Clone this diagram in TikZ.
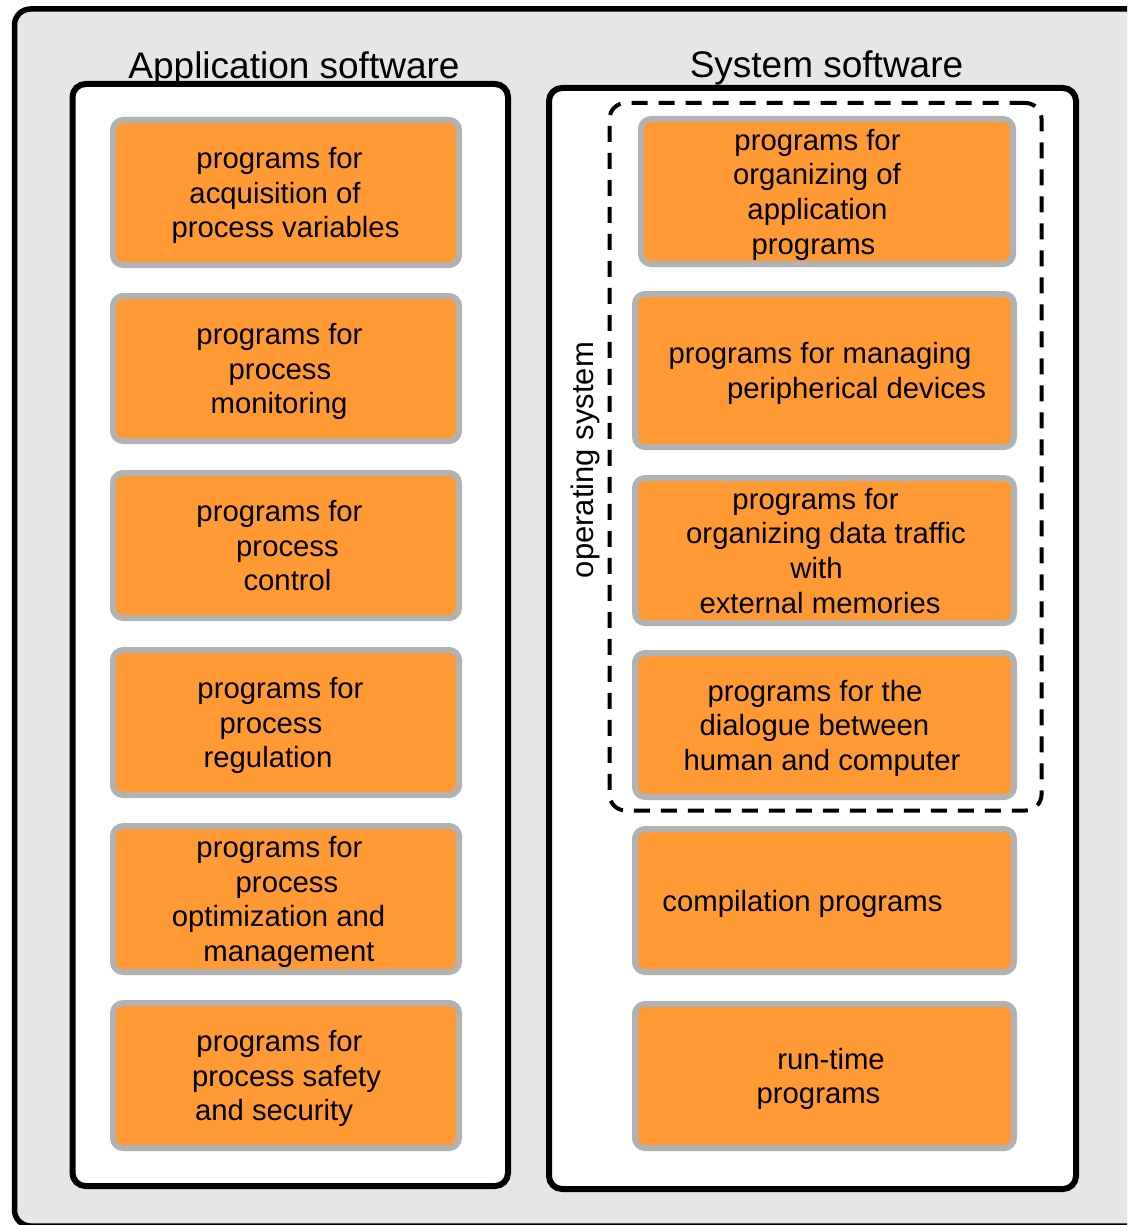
\documentclass[tikz,border=0pt]{standalone}
\usepackage{fontspec}
\setmainfont{Liberation Sans}
\definecolor{frameGray}{RGB}{230,230,230}
\definecolor{boxGray}{RGB}{178,178,178}
\definecolor{boxOrange}{RGB}{255,153,51}
% text sizes
\newcommand\boxfont{\fontsize{29.3pt}{34.6pt}\selectfont}
\newcommand\sidefont{\fontsize{31pt}{36pt}\selectfont}
\newcommand\titlefont{\fontsize{37pt}{42pt}\selectfont}
% move one line of a centred block sideways by #1 pt
\newcommand\sh[2]{\kern#1pt\relax#2\kern-#1pt\relax}
\begin{document}
\begin{tikzpicture}[x=1pt,y=-1pt,
  frame/.style={draw=black, line width=5.5pt, fill=frameGray, rounded corners=16pt, inner sep=0pt},
  panel/.style={draw=black, line width=6pt, fill=white, rounded corners=13pt, inner sep=0pt},
  osgroup/.style={draw=black, line width=4pt, dash pattern=on 16pt off 11pt, rounded corners=16pt, inner sep=0pt},
  progbox/.style={draw=boxGray, fill=boxOrange, line width=6pt, rounded corners=10pt, inner sep=0pt,
    align=center, font=\boxfont, text depth=-2pt},
  heading/.style={font=\titlefont, anchor=base, inner sep=0pt}]
\useasboundingbox (0,0) rectangle (1127,1225);
\clip (0,0) rectangle (1127,1225);

% outer frame (runs past the right and bottom edges)
\node[frame, minimum width=1130.5pt, minimum height=1217pt] (frame) at (579.75,617.5) {};

% headings, drawn beneath the panel borders
\node[heading] (apptitle) at (294,78.5) {Application software};
\node[heading] (systitle) at (826.5,78) {System software};

% the two panels
\node[panel, minimum width=435.5pt, minimum height=1102pt] (app) at (290.25,635) {};
\node[panel, minimum width=527pt, minimum height=1101pt] (sys) at (812.5,638.5) {};

% operating system group
\node[osgroup, minimum width=432pt, minimum height=707.5pt] (os) at (825.5,456.75) {};
\node[rotate=90, font=\sidefont, inner sep=0pt] (oslabel) at (585,460) {operating system};

% application programs
\node[progbox, minimum width=346pt, minimum height=145pt] (a1) at (286,192.5)
  {\sh{-6.5}{programs for}\\ \sh{-11}{acquisition of}\\ \sh{-0.5}{process variables}};
\node[progbox, minimum width=346pt, minimum height=145pt] (a2) at (286,368.5)
  {\sh{-6.5}{programs for}\\ \sh{-6}{process}\\ \sh{-7}{monitoring}};
\node[progbox, minimum width=346pt, minimum height=145pt] (a3) at (286,545.5)
  {\sh{-6.5}{programs for}\\ \sh{1.5}{process}\\ \sh{1.5}{control}};
\node[progbox, minimum width=346pt, minimum height=145pt] (a4) at (286,722.5)
  {\sh{-5.5}{programs for}\\ \sh{-15}{process}\\ \sh{-18}{regulation}};
\node[progbox, minimum width=346pt, minimum height=146pt] (a5) at (286,899)
  {\sh{-6.5}{programs for}\\ \sh{1}{process}\\ \sh{-7.5}{optimization and}\\ \sh{3}{management}};
\node[progbox, minimum width=346pt, minimum height=145pt] (a6) at (286,1075.5)
  {\sh{-6.5}{programs for}\\ \sh{0.5}{process safety}\\ \sh{-12}{and security}};

% system programs
\node[progbox, minimum width=372pt, minimum height=145pt] (s1) at (827,191.5)
  {\sh{-9.5}{programs for}\\ \sh{-10}{organizing of}\\ \sh{-9.5}{application}\\ \sh{-13.5}{programs}};
\node[progbox, minimum width=379pt, minimum height=153pt] (s2) at (824.5,370.5)
  {\sh{-4.5}{programs for managing}\\ \sh{32}{peripherical devices}};
\node[progbox, minimum width=379pt, minimum height=145pt] (s3) at (824.5,550.5)
  {\sh{-9}{programs for}\\ \sh{1.5}{organizing data traffic}\\ \sh{-8}{with}\\ \sh{-4.5}{external memories}};
\node[progbox, minimum width=379pt, minimum height=144pt] (s4) at (824.5,725)
  {\sh{-9.5}{programs for the}\\ \sh{-10}{dialogue between}\\ \sh{-2.5}{human and computer}};
\node[progbox, minimum width=379pt, minimum height=143pt] (s5) at (824.5,900.5)
  {\sh{-22}{compilation programs}};
\node[progbox, minimum width=379pt, minimum height=144pt] (s6) at (824.5,1076)
  {\sh{6.5}{run-time}\\ \sh{-6}{programs}};
\end{tikzpicture}
\end{document}
